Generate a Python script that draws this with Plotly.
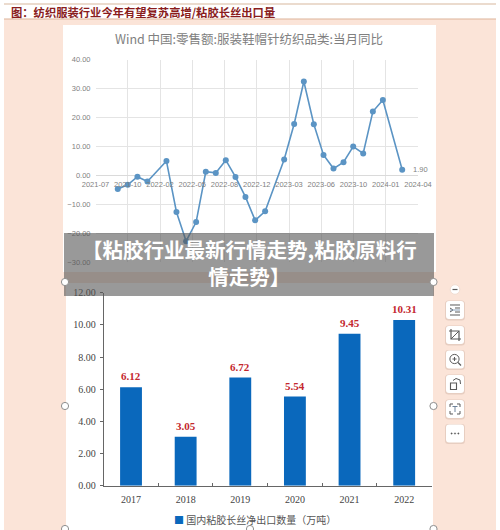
import plotly.graph_objects as go

# Monthly retail growth series (January is merged into February)
retail_dates = [
    "2021-09-30", "2021-10-31", "2021-11-30", "2021-12-31", "2022-02-28", "2022-03-31",
    "2022-04-30", "2022-05-31", "2022-06-30", "2022-07-31", "2022-08-31", "2022-09-30",
    "2022-10-31", "2022-11-30", "2022-12-31", "2023-02-28", "2023-03-31", "2023-04-30",
    "2023-05-31", "2023-06-30", "2023-07-31", "2023-08-31", "2023-09-30", "2023-10-31",
    "2023-11-30", "2023-12-31", "2024-02-29",
]
retail_yoy = [
    -4.8, -3.3, -0.5, -2.2, 4.9, -12.7, -22.8, -16.2, 1.2, 0.8, 5.2, -0.6,
    -7.5, -15.6, -12.5, 5.4, 17.7, 32.4, 17.6, 7.0, 2.3, 4.5, 9.9, 7.5,
    22.0, 26.0, 1.9,
]
# Date axis ticks fall every 100 days
retail_tick_dates = [
    "2021-07-23", "2021-10-31", "2022-02-08", "2022-05-19", "2022-08-27", "2022-12-05",
    "2023-03-15", "2023-06-23", "2023-10-01", "2024-01-09", "2024-04-18",
]
retail_tick_labels = [
    "2021-07", "2021-10", "2022-02", "2022-05", "2022-08", "2022-12",
    "2023-03", "2023-06", "2023-10", "2024-01", "2024-04",
]

export_years = ["2017", "2018", "2019", "2020", "2021", "2022"]
export_volume = [6.12, 3.05, 6.72, 5.54, 9.45, 10.31]

W, H = 500, 530
PEACH = "#FBE4D8"
SANS_CJK = "Noto Sans CJK SC"
SERIF = "Liberation Serif"


def fx(px):
    return px / W


def fy(py):
    return 1 - py / H


def rect(x0, y0, x1, y1, fill, layer="below", line=None):
    return dict(type="rect", xref="paper", yref="paper", x0=fx(x0), x1=fx(x1), y0=fy(y0), y1=fy(y1),
                fillcolor=fill, line=dict(color=line or fill, width=1 if line else 0), layer=layer)


def circle(cx, cy, r, fill, line, width=1.0):
    return dict(type="circle", xref="paper", yref="paper", x0=fx(cx - r), x1=fx(cx + r),
                y0=fy(cy - r), y1=fy(cy + r), fillcolor=fill, line=dict(color=line, width=width), layer="above")


def polyline(points, color="#5A5A5A", width=1.0, close=False):
    path = "M " + " L ".join(f"{fx(x):.5f},{fy(y):.5f}" for x, y in points) + (" Z" if close else "")
    return dict(type="path", xref="paper", yref="paper", path=path, line=dict(color=color, width=width), layer="above")


def rounded(x0, y0, x1, y1, r, fill):
    p = lambda x, y: f"{fx(x):.5f},{fy(y):.5f}"
    path = (f"M {p(x0 + r, y0)} L {p(x1 - r, y0)} Q {p(x1, y0)} {p(x1, y0 + r)} L {p(x1, y1 - r)} "
            f"Q {p(x1, y1)} {p(x1 - r, y1)} L {p(x0 + r, y1)} Q {p(x0, y1)} {p(x0, y1 - r)} "
            f"L {p(x0, y0 + r)} Q {p(x0, y0)} {p(x0 + r, y0)} Z")
    return dict(type="path", xref="paper", yref="paper", path=path, fillcolor=fill,
                line=dict(width=0, color=fill), layer="above")


shapes = [
    rect(0, 0, W, H, "#FFFFFF"),
    rect(4, 19, 496, H, PEACH),
    rect(4, 4, 496, 19, "#FFFFFF"),
    rect(4, 3.5, 496, 4.5, "#D8B79E"),
    rect(4, 18.5, 496, 19.5, "#DDB49A"),
    rect(63, 25, 436, 272, "#FFFFFF"),
    rect(66, 283, 433, H, "#FFFFFF"),
    # Translucent caption band across the two panels
    rect(64, 233, 434, 296, "rgba(85,85,85,0.6)", layer="above"),
]

# Image selection handles
for cx, cy in [(65, 282), (433.5, 282), (65, 406), (433.5, 406), (65, 529), (250, 529), (433.5, 529)]:
    shapes.append(circle(cx, cy, 3.6, "#FFFFFF", "#8E8E8E"))

# Floating image toolbar
shapes.append(circle(455, 289.5, 4.8, "#FFFFFF", "#F1DDD2"))
shapes.append(polyline([(452.5, 289.5), (457.5, 289.5)], width=1.2))
button_rows = [310, 335, 359.5, 384, 409, 433.5]
for y in button_rows:
    shapes.append(rounded(445, y - 9.5, 465, y + 10.5, 3.5, "rgba(170,140,125,0.25)"))
    shapes.append(rounded(446, y - 9, 464, y + 9, 3, "#FFFFFF"))

y = button_rows[0]
shapes += [
    polyline([(450, y - 5), (460, y - 5)]), polyline([(450, y + 5), (460, y + 5)]),
    polyline([(450, y - 2), (453, y), (450, y + 2)]), polyline([(455, y - 2), (460, y - 2)]),
    polyline([(455, y + 2), (460, y + 2)]), polyline([(450, y), (460, y)], color="#8AA0B8"),
]
y = button_rows[1]
shapes += [
    polyline([(451, y - 6), (451, y + 4), (461, y + 4)], width=1.2),
    polyline([(449, y - 4), (459, y - 4), (459, y + 6)], width=1.2),
    polyline([(451, y + 4), (459, y - 4)], width=1.0),
]
y = button_rows[2]
shapes += [
    circle(454.5, y - 0.5, 4.6, "#FFFFFF", "#5A5A5A"),
    polyline([(458, y + 3), (461, y + 6)], width=1.2),
    polyline([(452.5, y - 0.5), (456.5, y - 0.5)]),
    polyline([(454.5, y - 2.5), (454.5, y + 1.5)]),
]
y = button_rows[3]
shapes += [
    polyline([(450.5, y - 1), (456.5, y - 1), (456.5, y + 5.5), (450.5, y + 5.5)], width=1.1, close=True),
    polyline([(453, y - 3.5), (456, y - 5.5), (460, y - 4), (460.5, y)], width=1.0),
]
y = button_rows[4]
shapes += [
    polyline([(450, y - 2), (450, y - 5), (453, y - 5)]), polyline([(457, y - 5), (460, y - 5), (460, y - 2)]),
    polyline([(450, y + 2), (450, y + 5), (453, y + 5)]), polyline([(457, y + 5), (460, y + 5), (460, y + 2)]),
    polyline([(452.5, y - 2.5), (457.5, y - 2.5)], color="#6E8299"), polyline([(455, y - 2.5), (455, y + 3)], color="#6E8299"),
]
y = button_rows[5]
for dx in (-3.4, 0, 3.4):
    shapes.append(circle(455 + dx, y, 0.7, "#5A5A5A", "#5A5A5A", 0.4))

fig = go.Figure()

fig.add_trace(go.Scatter(
    x=retail_dates, y=retail_yoy, mode="lines+markers", xaxis="x", yaxis="y", showlegend=False,
    line=dict(color="#5B94C4", width=1.6), marker=dict(color="#5B94C4", size=6), cliponaxis=False,
))
fig.add_trace(go.Bar(
    x=export_years, y=export_volume, xaxis="x2", yaxis="y2", width=0.4, showlegend=False,
    marker=dict(color="#0A68BC", line=dict(width=0)), cliponaxis=False,
))

annotations = [
    dict(xref="paper", yref="paper", x=fx(9), y=fy(12), xanchor="left", yanchor="middle", showarrow=False,
         text="<b>图：纺织服装行业今年有望复苏高增/粘胶长丝出口量</b>",
         font=dict(family=SANS_CJK, size=11.3, color="#8A1C1C")),
    dict(xref="paper", yref="paper", x=fx(249), y=fy(39), xanchor="center", yanchor="middle", showarrow=False,
         text="Wind 中国:零售额:服装鞋帽针纺织品类:当月同比",
         font=dict(family=SANS_CJK, size=12.5, color="#808080")),
    dict(x=retail_dates[-1], y=retail_yoy[-1], xref="x", yref="y", xanchor="left", yanchor="middle",
         xshift=9, showarrow=False, text=f"{retail_yoy[-1]:.2f}",
         font=dict(family="Liberation Sans", size=7.5, color="#7F7F7F")),
    dict(xref="paper", yref="paper", x=fx(249), y=fy(262.8), xanchor="center", yanchor="middle", showarrow=False,
         text="<b>【粘胶行业最新行情走势,粘胶原料行<br>情走势】</b>",
         font=dict(family=SANS_CJK, size=20.5, color="#FFFFFF")),
    dict(xref="paper", yref="paper", x=fx(254.5), y=fy(519), xanchor="center", yanchor="middle", showarrow=False,
         text="<span style='color:#0A68BC'>■</span> 国内粘胶长丝净出口数量（万吨）",
         font=dict(family=SANS_CJK, size=10, color="#555555")),
]
# Value labels sit just above each bar; category axes place annotations by position index
for index, value in enumerate(export_volume):
    annotations.append(dict(
        x=index, y=value, xref="x2", yref="y2", xanchor="center", yanchor="middle", yshift=11, showarrow=False,
        text=f"<b>{value:.2f}</b>", font=dict(family=SERIF, size=11, color="#C4272E"),
    ))

fig.update_layout(
    width=W, height=H, margin=dict(l=0, r=0, t=0, b=0), autosize=False, showlegend=False,
    paper_bgcolor="#FFFFFF", plot_bgcolor="rgba(0,0,0,0)", bargap=0.6,
    shapes=shapes, annotations=annotations,
    xaxis=dict(
        domain=[fx(95.5), fx(418)], type="date", range=[retail_tick_dates[0], retail_tick_dates[-1]],
        anchor="free", position=fy(175), tickmode="array", tickvals=retail_tick_dates, ticktext=retail_tick_labels,
        showgrid=True, gridcolor="#E4E4E4", gridwidth=1, showline=False, ticks="", ticklabelstandoff=3,
        automargin=False, tickfont=dict(family="Liberation Sans", size=7.5, color="#7F7F7F"),
    ),
    yaxis=dict(
        domain=[fy(262), fy(59.5)], range=[-30, 40], tickmode="linear", tick0=-30, dtick=10, tickformat=".2f",
        anchor="x", showgrid=True, gridcolor="#E4E4E4", gridwidth=1, zeroline=True, zerolinecolor="#DADADA",
        zerolinewidth=1, showline=False, ticks="", ticklabelstandoff=4, automargin=False,
        tickfont=dict(family="Liberation Sans", size=7.5, color="#7F7F7F"),
    ),
    xaxis2=dict(
        domain=[fx(103.7), fx(431.5)], type="category", anchor="y2", range=[-0.5, 5.5],
        categoryorder="array", categoryarray=export_years, showgrid=False, showline=True,
        linecolor="#666666", linewidth=1, ticks="inside", ticklen=3, tickcolor="#666666", tickson="boundaries",
        tickangle=0, ticklabelstandoff=4, automargin=False, tickfont=dict(family=SERIF, size=10, color="#444444"),
    ),
    yaxis2=dict(
        domain=[fy(485.7), fy(292.7)], range=[0, 12], tickmode="linear", tick0=0, dtick=2, tickformat=".2f",
        anchor="x2", showgrid=False, zeroline=False, showline=True, linecolor="#666666", linewidth=1,
        ticks="outside", ticklen=3, tickcolor="#666666", ticklabelstandoff=2, automargin=False,
        tickfont=dict(family=SERIF, size=10, color="#444444"),
    ),
)

fig.write_html("out.html", config=dict(displayModeBar=False))
